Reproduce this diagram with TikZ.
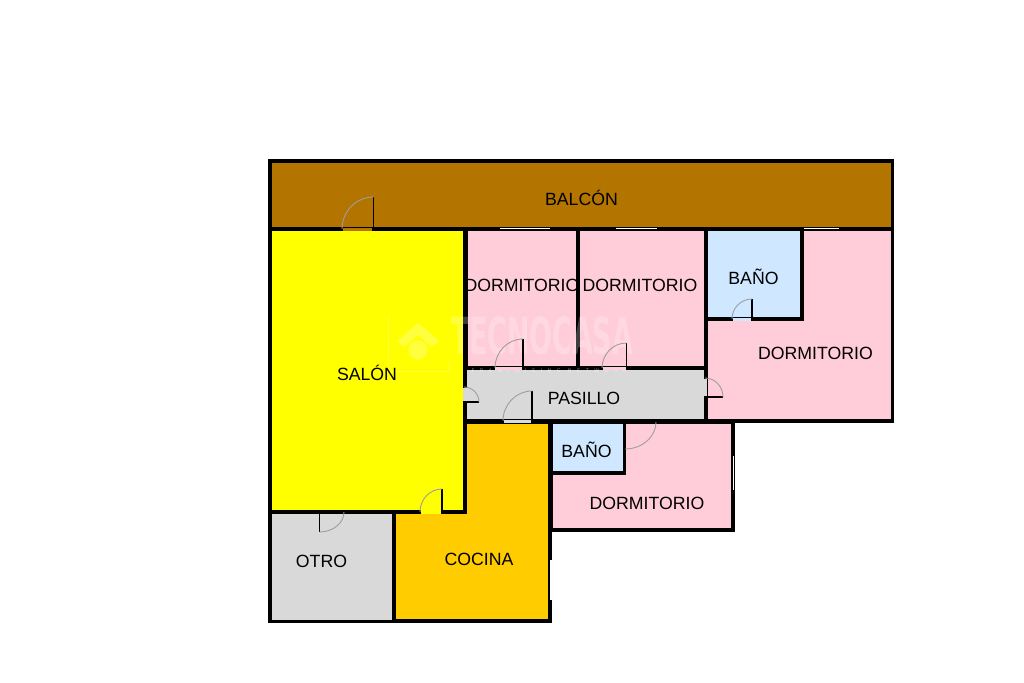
\documentclass[tikz,border=0pt]{standalone}
\usepackage{fontspec}
\usepackage{graphicx}
\setmainfont{Liberation Sans}
\newfontfamily\wmfont{DejaVu Sans}
\usetikzlibrary{calc}
\definecolor{balc}{HTML}{B37400}
\definecolor{salon}{HTML}{FFFF00}
\definecolor{dorm}{HTML}{FFCCD9}
\definecolor{bano}{HTML}{CFE7FF}
\definecolor{grisr}{HTML}{D9D9D9}
\definecolor{coc}{HTML}{FFCC00}
\tikzset{
  room/.style={draw=black,line width=3.1pt,line join=miter,fill=#1},
  leaf/.style={draw=black,line width=1.8pt},
  swing/.style={draw=black!38,line width=0.9pt},
  gap/.style={line width=3pt,draw=#1},
  glass/.style={draw=white,line width=1.2pt},
  lab/.style={anchor=base,inner sep=0pt,font=\fontsize{17.7}{20}\selectfont,text=black},
  wm/.style={text=white,opacity=0.24,inner sep=0pt},
}
% #1 hinge, #2 leaf end, #3 arc end
\newcommand{\doorswing}[3]{%
  \coordinate (H) at (#1); \coordinate (L) at (#2); \coordinate (A) at (#3);
  \coordinate (K) at ($(L)+(A)-(H)$);
  \draw[leaf] (H) -- (L);
  \draw[swing] (L) .. controls ($(L)!0.552!(K)$) and ($(A)!0.552!(K)$) .. (A);
}
\begin{document}
\begin{tikzpicture}[x=1pt,y=-1pt]
\useasboundingbox (0,0) rectangle (1024,682);
\fill[white] (0,0) rectangle (1024,682);
% rooms
\draw[room=balc] (270,161) rectangle (892.5,229);
\draw[room=dorm] (802,229) -- (892.5,229) -- (892.5,421) -- (706,421) -- (706,319) -- (802,319) -- cycle;
\draw[room=dorm] (466,229) rectangle (578,368);
\draw[room=dorm] (578,229) rectangle (706,368);
\draw[room=bano] (706,229) rectangle (802,319);
\draw[room=dorm] (551,422) rectangle (733,530);
\draw[room=bano] (551,422) rectangle (624.5,473);
\draw[room=grisr] (465,368) rectangle (705.5,421);
\draw[room=coc] (465,422) -- (550,422) -- (550,621) -- (394,621) -- (394,512) -- (465,512) -- cycle;
\draw[room=grisr] (270,512) rectangle (394,621.5);
\draw[room=salon] (270,229) rectangle (465,512);
% watermark
\node[wm,anchor=center] (wmtext) at (542,336) {\resizebox{182pt}{38pt}{\wmfont\bfseries TECNOCASA}};
\node[wm,opacity=0.5,anchor=center,font=\fontsize{5}{6}\selectfont] (wmsub) at (549,371) {\wmfont\addfontfeature{LetterSpace=110}FRANCHISING NETWORK};
\fill[white,opacity=0.25] (397,341) -- (418,323) -- (439,341) -- (432,347) -- (418,335) -- (404,347) -- cycle;
\fill[white,opacity=0.25] (418,350) circle (9.5);
\draw[white,opacity=0.25,line width=0.8pt] (388,315) -- (388,371) -- (449,371) -- (449,362);
% windows
\draw[glass] (500,228.5) -- (550,228.5);
\draw[glass] (616,228.5) -- (657,228.5);
\draw[glass] (804,228.5) -- (839,228.5);
\draw[glass] (733.5,456) -- (733.5,490);
\draw[glass] (551,560) -- (551,600);
% door gaps
\draw[gap=balc] (343,229) -- (372,229);
\draw[gap=dorm] (495,368) -- (522,368);
\draw[gap=dorm] (603,368) -- (626,368);
\draw[gap=bano] (733,319) -- (751,319);
\draw[gap=grisr,line width=3.4pt] (705.5,379) -- (705.5,396);
\draw[gap=grisr,line width=3.4pt] (465,388) -- (465,401);
\draw[gap=grisr] (504,421) -- (531,421);
\draw[gap=salon,line width=3.4pt] (421,512) -- (441,512);
% doors
\doorswing{373.5,229}{373.5,197}{342,229}
\doorswing{523,368}{523,339}{495,368}
\doorswing{626.5,368}{626.5,343}{602,368}
\doorswing{752,319}{752,299}{732,319}
\doorswing{705,397}{723,397}{705,378}
\doorswing{464,402}{479,402}{464,387}
\doorswing{532,421}{532,391}{503,421}
\doorswing{625,422}{625,449}{656,422}
\doorswing{442,512}{442,489}{420,512}
\doorswing{319.5,512}{319.5,532}{344,512}
% labels
\node[lab] (lbalcon) at (581.5,205) {BALCÓN};
\node[lab] (ld1) at (522,291) {DORMITORIO};
\node[lab] (ld2) at (640,291.5) {DORMITORIO};
\node[lab] (lb1) at (753.5,284) {BAÑO};
\node[lab] (ld3) at (815.5,359.5) {DORMITORIO};
\node[lab] (lsalon) at (367,380.5) {SALÓN};
\node[lab] (lpas) at (584,404) {PASILLO};
\node[lab] (lb2) at (586.5,457) {BAÑO};
\node[lab] (ld4) at (647,509) {DORMITORIO};
\node[lab] (lotro) at (321.5,567.5) {OTRO};
\node[lab] (lcoc) at (479,565.5) {COCINA};
\end{tikzpicture}
\end{document}
